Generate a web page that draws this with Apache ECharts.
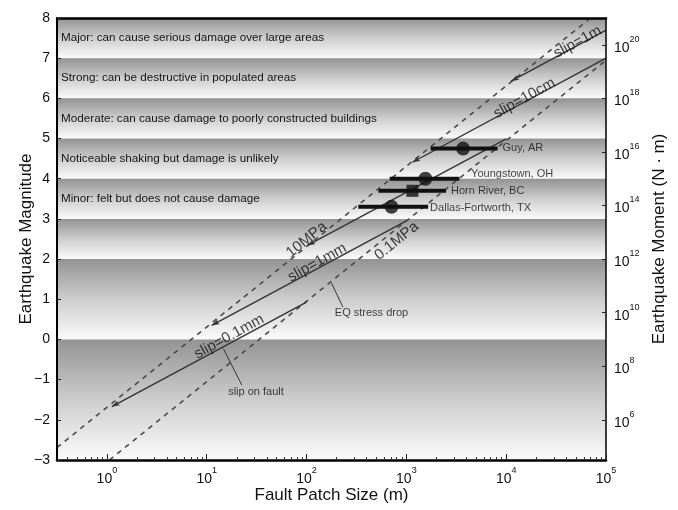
<!DOCTYPE html>
<html><head><meta charset="utf-8">
<script src="https://cdn.jsdelivr.net/npm/echarts@6/dist/echarts.min.js"></script>
<style>html,body{margin:0;padding:0;background:#fff}#c{width:678px;height:510px}</style>
</head><body><div id="c"></div>
<script>
// ---------------- data ----------------
const magTicks = [-3,-2,-1,0,1,2,3,4,5,6,7,8];
const sizeTicks = [1, 10, 100, 1000, 10000, 100000];
const sizeMinorTicks = [0.4,0.5,0.6,0.7,0.8,0.9,
  2,3,4,5,6,7,8,9, 20,30,40,50,60,70,80,90, 200,300,400,500,600,700,800,900,
  2000,3000,4000,5000,6000,7000,8000,9000, 20000,30000,40000,50000,60000,70000,80000,90000];
const momentTicks = [1e6, 1e8, 1e10, 1e12, 1e14, 1e16, 1e18, 1e20];

const bandLow  = [7, 6, 5, 4, 3, 2, 0, -3];
const bandHigh = [8, 7, 6, 5, 4, 3, 2, 0];
const bandLabels = [
  'Major: can cause serious damage over large areas',
  'Strong: can be destructive in populated areas',
  'Moderate: can cause damage to poorly constructed buildings',
  'Noticeable shaking but damage is unlikely',
  'Minor: felt but does not cause damage',
  '', '', ''
];

// stress-drop lines (dashed): [fault size m, magnitude]
const stress10MPa  = [[0.316, -2.69], [70000, 8.0]];
const stress01MPa  = [[1.06, -3.0], [100000, 6.95]];

// slip lines (solid)
const slip01mm = [[1.12, -1.67], [100, 0.93]];
const slip1mm  = [[11.2, 0.35], [1000, 2.95]];
const slip1cm  = [[102, 2.34], [10000, 4.99]];
const slip10cm = [[1150, 4.41], [100000, 7.0]];
const slip1m   = [[11200, 6.43], [100000, 7.70]];

// earthquakes
const quakeNames   = ['Guy, AR', 'Youngstown, OH', 'Horn River, BC', 'Dallas-Fortworth, TX'];
const quakeMag     = [4.75, 4.0, 3.7, 3.3];
const quakeSize    = [3700, 1550, 1150, 710];
const quakeSizeMin = [1750, 680, 525, 330];
const quakeSizeMax = [8200, 3400, 2500, 1650];
const quakeShape   = ['circle', 'circle', 'rect', 'circle'];
const quakeLabelSize = [9200, 4450, 2800, 1730];
const quakeLabelMag  = [4.76, 4.12, 3.70, 3.28];

// line annotations: text, size, magnitude, angle
const annoText  = ['slip=1m', 'slip=10cm', '10MPa', 'slip=1mm', '0.1MPa', 'slip=0.1mm'];
const annoSize  = [52000, 15200, 100, 128, 800, 16.8];
const annoMag   = [7.40, 6.00, 2.48, 1.91, 2.45, 0.07];
const annoAngle = [29, 29, 39, 29, 39, 29];

// callouts
const calloutText = ['EQ stress drop', 'slip on fault'];
const calloutSize = [192, 16.4];
const calloutMag  = [0.65, -1.30];
const leaderEQ   = [[178, 1.40], [232, 0.80]];
const leaderSlip = [[14.7, -0.23], [22.4, -1.13]];

// ---------------- chart ----------------
const FONT = 'Liberation Sans, Arial, Helvetica, sans-serif';
const chart = echarts.init(document.getElementById('c'), null, {renderer: 'canvas'});

const supRich = {
  b: {fontSize: 14, fontFamily: FONT, color: '#111', padding: [6, 0, 0, 0], verticalAlign: 'bottom'},
  s: {fontSize: 9, fontFamily: FONT, color: '#111', verticalAlign: 'top'}
};
const powFmt = v => '{b|10}{s|' + Math.round(Math.log10(v)) + '}';

const bandData = bandLow.map((lo, i) => [
  {
    yAxis: lo,
    itemStyle: {color: new echarts.graphic.LinearGradient(0, 0, 0, 1, [
      {offset: 0, color: '#939393'}, {offset: 0.5, color: '#cdcdcd'}, {offset: 1, color: '#fbfbfb'}])},
    label: {show: !!bandLabels[i], formatter: bandLabels[i], position: 'insideLeft', distance: 4,
            fontSize: 11.7, fontFamily: FONT, color: '#141414'}
  },
  {yAxis: bandHigh[i]}
]);

function lineSeries(data, dashed, arrow) {
  return {
    type: 'line', z: 3, silent: true, animation: false,
    data: data.map((p, i) => (i === 0 && arrow)
      ? {value: p, symbol: 'arrow', symbolSize: [4, 8], symbolRotate: 118}
      : {value: p, symbol: 'none'}),
    showSymbol: true,
    itemStyle: {color: '#333'},
    lineStyle: dashed ? {color: '#4a4a4a', width: 1.6, type: [5, 5]} : {color: '#333', width: 1.4}
  };
}

const series = [];
series.push({type: 'line', data: [], z: 1, silent: true, markArea: {silent: true, z: 1, data: bandData}});
series.push(lineSeries(stress10MPa, true, false));
series.push(lineSeries(stress01MPa, true, false));
[slip01mm, slip1mm, slip1cm, slip10cm, slip1m].forEach(d => series.push(lineSeries(d, false, true)));

// error bars
quakeNames.forEach((n, i) => {
  series.push({
    type: 'line', z: 4, silent: true, symbol: 'none',
    data: [[quakeSizeMin[i], quakeMag[i]], [quakeSizeMax[i], quakeMag[i]]],
    lineStyle: {color: '#111', width: 4}
  });
});
// quake markers
series.push({
  type: 'scatter', z: 5, silent: true,
  data: quakeNames.map((n, i) => ({value: [quakeSize[i], quakeMag[i]], symbol: quakeShape[i],
         symbolSize: quakeShape[i] === 'rect' ? 12 : 14})),
  itemStyle: {color: '#111'}
});
// quake labels
series.push({
  type: 'scatter', z: 6, silent: true, symbolSize: 0,
  data: quakeNames.map((n, i) => ({value: [quakeLabelSize[i], quakeLabelMag[i]], name: n})),
  label: {show: true, position: 'right', distance: 0, formatter: p => p.name,
          fontSize: 11, fontFamily: FONT, color: '#111'}
});
// line annotations
series.push({
  type: 'scatter', z: 6, silent: true, symbolSize: 0,
  data: annoText.map((t, i) => ({value: [annoSize[i], annoMag[i]], name: t,
        label: {rotate: annoAngle[i]}})),
  label: {show: true, position: 'inside', formatter: p => p.name,
          fontSize: 15, fontFamily: FONT, color: '#111'}
});
// callouts
series.push({
  type: 'scatter', z: 6, silent: true, symbolSize: 0,
  data: calloutText.map((t, i) => ({value: [calloutSize[i], calloutMag[i]], name: t})),
  label: {show: true, position: 'right', distance: 0, formatter: p => p.name,
          fontSize: 11, fontFamily: FONT, color: '#111'}
});
[leaderEQ, leaderSlip].forEach(d => series.push({
  type: 'line', z: 4, silent: true, symbol: 'none', data: d,
  lineStyle: {color: '#333', width: 1}
}));

const option = {
  animation: false,
  backgroundColor: '#fff',
  grid: {left: 57, right: 72, top: 18, bottom: 50, outerBoundsMode: 'none', containLabel: false},
  xAxis: [
    {
      type: 'log', logBase: 10, min: 0.316227766, max: 100000, position: 'bottom', z: 10,
      axisLine: {show: true, onZero: false, lineStyle: {color: '#000', width: 2.5}},
      axisTick: {show: true, inside: true, length: 6, customValues: sizeTicks, lineStyle: {color: '#222'}},
      axisLabel: {customValues: sizeTicks, formatter: powFmt, rich: supRich, margin: 6},
      splitLine: {show: false}, minorTick: {show: false},
      name: 'Fault Patch Size (m)', nameLocation: 'middle', nameGap: 26.5, nameMoveOverlap: false,
      nameTextStyle: {fontSize: 17, fontFamily: FONT, color: '#111'}
    },
    {
      type: 'log', logBase: 10, min: 0.316227766, max: 100000, position: 'bottom', z: 10,
      axisLine: {show: false, onZero: false},
      axisTick: {show: true, inside: true, length: 3, customValues: sizeMinorTicks, lineStyle: {color: '#333'}},
      axisLabel: {show: false}, splitLine: {show: false}
    },
    {
      type: 'log', logBase: 10, min: 0.316227766, max: 100000, position: 'top', z: 10,
      axisLine: {show: true, onZero: false, lineStyle: {color: '#000', width: 2.5}},
      axisTick: {show: false}, axisLabel: {show: false}, splitLine: {show: false}
    }
  ],
  yAxis: [
    {
      type: 'value', min: -3, max: 8, interval: 1, position: 'left', z: 10,
      axisLine: {show: true, onZero: false, lineStyle: {color: '#000', width: 2}},
      axisTick: {show: true, inside: true, length: 4, lineStyle: {color: '#222'}},
      axisLabel: {fontSize: 14, fontFamily: FONT, color: '#111', margin: 7,
                  formatter: v => v < 0 ? '\u2212' + Math.abs(v) : String(v)},
      splitLine: {show: false},
      name: 'Earthquake Magnitude', nameLocation: 'middle', nameGap: 22.5, nameMoveOverlap: false,
      nameTextStyle: {fontSize: 17, fontFamily: FONT, color: '#111'}
    },
    {
      type: 'log', logBase: 10, min: 31622.7766, max: 1e21, position: 'right', z: 10,
      axisLine: {show: true, onZero: false, lineStyle: {color: '#000', width: 1.5}},
      axisTick: {show: true, inside: true, length: 4, customValues: momentTicks, lineStyle: {color: '#222'}},
      axisLabel: {customValues: momentTicks, formatter: powFmt, rich: supRich, margin: 8},
      splitLine: {show: false}, minorTick: {show: false},
      name: 'Earthquake Moment (N \u00b7 m)', nameLocation: 'middle', nameGap: 45, nameMoveOverlap: false,
      nameTextStyle: {fontSize: 17, fontFamily: FONT, color: '#111'}
    }
  ],
  series: series
};
chart.setOption(option);
</script>
</body></html>
